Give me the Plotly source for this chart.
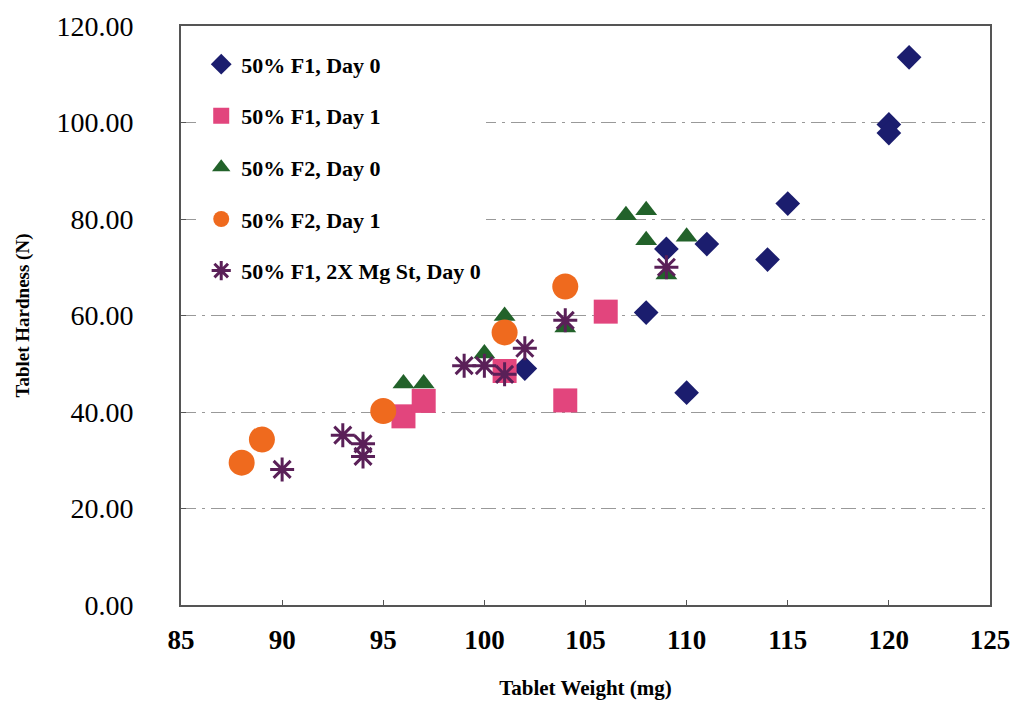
import plotly.graph_objects as go

# Data
f1_d0_x = [121, 120, 120, 115, 114, 111, 109, 108, 110, 102]
f1_d0_y = [113.5, 99.6, 97.8, 83.2, 71.6, 74.8, 73.8, 60.6, 44.0, 49.0]

f1_d1_x = [104, 106, 101, 96, 97]
f1_d1_y = [42.4, 60.8, 48.5, 39.1, 42.3]

f2_d0_x = [96, 97, 101, 100, 104, 107, 108, 108, 110, 109]
f2_d0_y = [45.9, 45.9, 59.9, 52.1, 57.5, 80.8, 81.8, 75.6, 76.3, 68.5]

f2_d1_x = [88, 89, 95, 101, 104]
f2_d1_y = [29.5, 34.3, 40.2, 56.5, 66.0]

mg_x = [90, 93, 94, 94, 99, 100, 101, 102, 104, 109]
mg_y = [28.1, 35.2, 33.4, 30.8, 49.6, 49.6, 47.8, 53.2, 59.0, 70.0]

names = ["50% F1, Day 0", "50% F1, Day 1", "50% F2, Day 0", "50% F2, Day 1", "50% F1, 2X Mg St, Day 0"]
y_ticks = [0, 20, 40, 60, 80, 100, 120]
x_ticks = [85, 90, 95, 100, 105, 110, 115, 120, 125]

series = [
    (f1_d0_x, f1_d0_y, dict(symbol="diamond", size=19, color="#1b1d6e")),
    (f1_d1_x, f1_d1_y, dict(symbol="square", size=24, color="#e2457d")),
    (f2_d0_x, f2_d0_y, dict(symbol="triangle-up", size=19, color="#22622a")),
    (f2_d1_x, f2_d1_y, dict(symbol="circle", size=26, color="#ef6a1e")),
    (mg_x, mg_y, dict(symbol="asterisk-open", size=20, color="#5a2058",
                      line=dict(color="#5a2058", width=3))),
]

fig = go.Figure()
for i, (xs, ys, mk) in enumerate(series):
    fig.add_trace(go.Scatter(x=xs, y=ys, mode="markers", name=names[i],
                             legendgroup=str(i), marker=mk))

serif = "Liberation Serif"
fig.update_layout(
    width=1010, height=698,
    margin=dict(l=173, r=28, t=18, b=101, autoexpand=False),
    paper_bgcolor="white", plot_bgcolor="white",
    showlegend=True,
    legend=dict(x=0.025, y=0.97, xanchor="left", yanchor="top",
                bgcolor="white", borderwidth=0,
                font=dict(family=serif, size=22, color="black", weight="bold"),
                traceorder="grouped", tracegroupgap=20, itemsizing="trace"),
    font=dict(family=serif, color="black"),
)
fig.update_xaxes(range=[85, 125], tickvals=x_ticks, ticks="inside", ticklen=5,
                 tickcolor="#555", showgrid=False, zeroline=False, automargin=False,
                 showline=True, linecolor="#555", linewidth=2, mirror=True,
                 tickfont=dict(family=serif, size=27, color="black", weight="bold"),
                 ticklabelstandoff=10, ticklabeloverflow="allow",
                 title=dict(text="Tablet Weight (mg)", standoff=26,
                            font=dict(family=serif, size=21, color="black", weight="bold")))
fig.update_yaxes(range=[0, 120], tickvals=y_ticks, tickformat=".2f", ticks="inside",
                 ticklen=5, tickcolor="#555", showgrid=True, gridcolor="#999",
                 griddash="longdashdot", gridwidth=1, zeroline=False, automargin=False,
                 showline=True, linecolor="#555", linewidth=2, mirror=True,
                 tickfont=dict(family=serif, size=28, color="black"),
                 ticklabelstandoff=40, ticklabeloverflow="allow",
                 title=dict(text="Tablet Hardness (N)", standoff=22,
                            font=dict(family=serif, size=19, color="black", weight="bold")))

fig.write_html("out.html")
